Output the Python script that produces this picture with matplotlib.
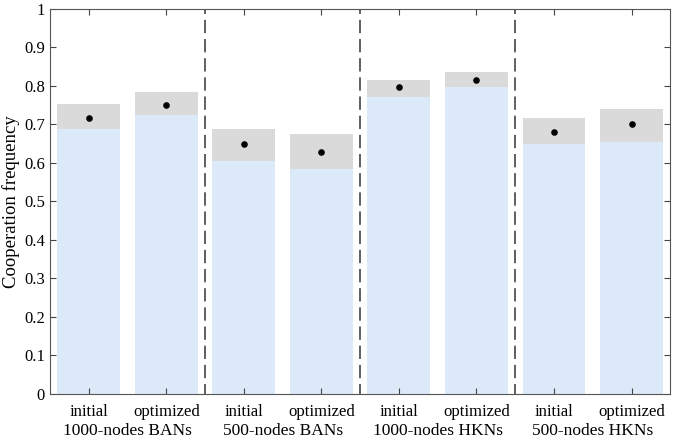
#!/usr/bin/env python3

import numpy as np
import matplotlib.pyplot as plt
from matplotlib import transforms

plt.rcParams["font.family"] = ["Liberation Serif", "DejaVu Serif"]
plt.rcParams["font.size"] = 12

# data
conditions = ["initial", "optimized"] * 4
groups = ["1000-nodes BANs", "500-nodes BANs", "1000-nodes HKNs", "500-nodes HKNs"]
lower = [0.687, 0.723, 0.605, 0.584, 0.772, 0.796, 0.649, 0.655]
upper = [0.752, 0.783, 0.687, 0.674, 0.816, 0.835, 0.717, 0.740]
mean = [0.716, 0.749, 0.649, 0.629, 0.797, 0.816, 0.680, 0.700]

x = np.arange(len(conditions))
lower = np.array(lower)
upper = np.array(upper)

fig = plt.figure(figsize=(6.75, 4.41), dpi=100)
ax = fig.add_axes([0.074, 0.107, 0.919, 0.873])

ax.bar(x, lower, width=0.81, color="#dce9f8", zorder=1)
ax.bar(x, upper - lower, bottom=lower, width=0.81, color="#dadada", zorder=1)
ax.scatter(x, mean, s=14, color="black", zorder=3)

for sep in [1.5, 3.5, 5.5]:
    ax.axvline(sep, color="#444444", lw=1.2, ls=(2, (8, 3.5)), zorder=2)

ax.set_xlim(-0.5, 7.5)
ax.set_ylim(0, 1)
ax.set_yticks(np.arange(0, 1.01, 0.1))
ax.set_yticklabels(["0"] + [f"{v:.1f}" for v in np.arange(0.1, 0.95, 0.1)] + ["1"])
ax.set_xticks(x)
ax.set_xticklabels(conditions)
ax.tick_params(direction="in", top=True, right=True, length=4, color="#444444")
ax.tick_params(axis="x", pad=7)
for s in ax.spines.values():
    s.set_color("#555555")
ax.set_ylabel("Cooperation frequency", fontsize=13.5, labelpad=3)

trans = transforms.blended_transform_factory(ax.transData, ax.transAxes)
for i, g in enumerate(groups):
    ax.text(2 * i + 0.5, -0.077, g, transform=trans, ha="center", va="top", fontsize=12.5)

fig.savefig("out.png")
